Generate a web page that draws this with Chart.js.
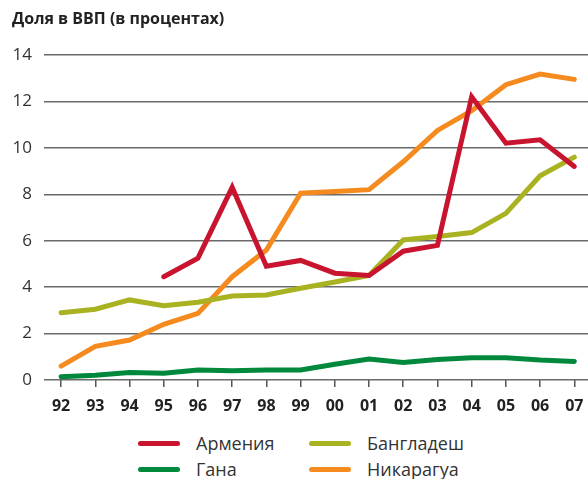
<!DOCTYPE html>
<html>
<head>
<meta charset="utf-8">
<script src="https://cdn.jsdelivr.net/npm/chart.js@4"></script>
<style>
  body { margin: 0; background: #fff; font-family: 'Open Sans', sans-serif; }
  #wrap { position: relative; width: 588px; height: 479px; overflow: hidden; }
  #wrap canvas { position: absolute; left: 0; top: 0; }
  .title { position: absolute; left: 12px; top: 7px; font-size: 16px; font-weight: bold; color: #222; white-space: nowrap; }
  .key { position: absolute; display: flex; align-items: center; font-size: 18px; color: #333; white-space: nowrap; }
  .key span.swatch { display: inline-block; width: 42px; height: 5px; border-radius: 3px; margin-right: 16px; }
</style>
</head>
<body>
<div id="wrap">
  <canvas id="gdpChart" width="588" height="425"></canvas>
  <div class="title">Доля в ВВП (в процентах)</div>
  <div class="key" style="left:138px; top:431px;"><span class="swatch" style="background:#c8142f"></span>Армения</div>
  <div class="key" style="left:309px; top:431px;"><span class="swatch" style="background:#a9b220"></span>Бангладеш</div>
  <div class="key" style="left:138px; top:457px;"><span class="swatch" style="background:#00893c"></span>Гана</div>
  <div class="key" style="left:309px; top:457px;"><span class="swatch" style="background:#f58a1f"></span>Никарагуа</div>
</div>
<script>
// years on the x axis
const years = ['92', '93', '94', '95', '96', '97', '98', '99', '00', '01', '02', '03', '04', '05', '06', '07'];
const yTicks = [0, 2, 4, 6, 8, 10, 12, 14];

// share of GDP, percent
const armenia    = [null, null, null, 4.45, 5.25, 8.3, 4.9, 5.15, 4.6, 4.5, 5.55, 5.8, 12.2, 10.2, 10.35, 9.2];
const bangladesh = [2.9, 3.05, 3.45, 3.2, 3.35, 3.62, 3.66, 3.95, 4.22, 4.5, 6.03, 6.18, 6.35, 7.18, 8.8, 9.6];
const ghana      = [0.14, 0.2, 0.32, 0.29, 0.43, 0.4, 0.43, 0.43, 0.68, 0.9, 0.75, 0.88, 0.96, 0.96, 0.86, 0.8];
const nicaragua  = [0.6, 1.45, 1.72, 2.4, 2.87, 4.45, 5.6, 8.05, 8.12, 8.2, 9.4, 10.75, 11.6, 12.72, 13.18, 12.95];

function points(values) {
    return values.map((v, i) => ({ x: i, y: v }));
}

function line(label, values, color) {
    return {
        label: label,
        data: points(values),
        borderColor: color,
        backgroundColor: color,
        borderWidth: 5,
        pointRadius: 0,
        tension: 0,
        borderCapStyle: 'round',
        borderJoinStyle: 'miter',
        spanGaps: false,
    };
}

let ctx = document.getElementById('gdpChart').getContext('2d');

new Chart(ctx, {
    type: 'line',
    data: {
        datasets: [
            line('Армения', armenia, '#c8142f'),
            line('Бангладеш', bangladesh, '#a9b220'),
            line('Гана', ghana, '#00893c'),
            line('Никарагуа', nicaragua, '#f58a1f'),
        ],
    },
    options: {
        responsive: false,
        animation: false,
        layout: { padding: { left: 0, right: 0, top: 55, bottom: 0 } },
        plugins: {
            legend: { display: false },
            tooltip: { enabled: false },
        },
        scales: {
            x: {
                type: 'linear',
                min: -0.5,
                max: 15.4,
                afterBuildTicks: (s) => { s.ticks = years.map((_, i) => ({ value: i })); },
                afterFit: (s) => { s.height = 45; s.paddingLeft = 0; s.paddingRight = 0; },
                border: { display: false },
                grid: { drawOnChartArea: false, drawTicks: true, tickLength: 7, color: '#555', lineWidth: 1.5 },
                ticks: {
                    padding: 10,
                    maxRotation: 0,
                    autoSkip: false,
                    color: '#222',
                    font: { family: 'Open Sans', size: 16, weight: 'bold' },
                    callback: (v) => years[v],
                },
            },
            y: {
                min: 0,
                max: 14,
                afterBuildTicks: (s) => { s.ticks = yTicks.map((v) => ({ value: v })); },
                afterFit: (s) => { s.width = 44; s.paddingTop = 0; s.paddingBottom = 0; },
                border: { display: false },
                grid: { drawTicks: false, color: '#6a6a6a', lineWidth: 1.5 },
                ticks: {
                    padding: 12,
                    color: '#333',
                    font: { family: 'Open Sans', size: 17 },
                },
            },
        },
    },
});
</script>
</body>
</html>
